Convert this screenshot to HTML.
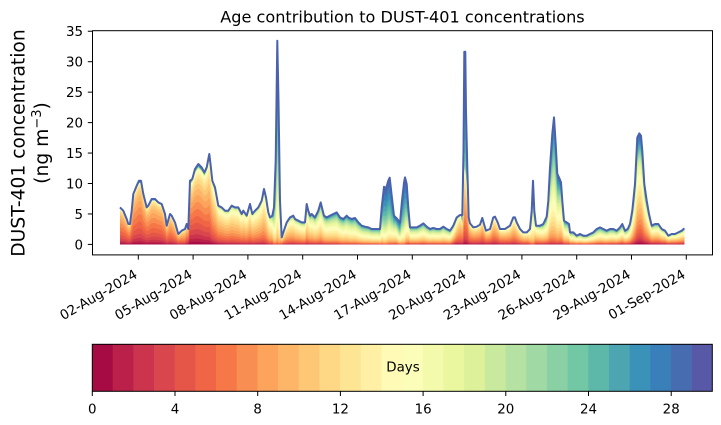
<!DOCTYPE html>
<html><head><meta charset="utf-8">
<style>
html,body{margin:0;padding:0;background:#fff;}
svg{display:block;}
text{font-family:"DejaVu Sans","Liberation Sans",sans-serif;fill:#000;}
</style></head>
<body>
<svg id="s" width="721" height="425" viewBox="0 0 721 425" xmlns="http://www.w3.org/2000/svg">
<rect width="721" height="425" fill="#fff"/>
<g id="areas"></g>
<rect x="92.5" y="30.7" width="620" height="224.2" fill="none" stroke="#000" stroke-width="1"/>
<text x="402.5" y="22.5" font-size="16.1" text-anchor="middle">Age contribution to DUST-401 concentrations</text>
<g stroke="#000" stroke-width="1">
<line x1="87.8" x2="92.5" y1="244.4" y2="244.4"/>
<line x1="87.8" x2="92.5" y1="213.95" y2="213.95"/>
<line x1="87.8" x2="92.5" y1="183.5" y2="183.5"/>
<line x1="87.8" x2="92.5" y1="153.05" y2="153.05"/>
<line x1="87.8" x2="92.5" y1="122.6" y2="122.6"/>
<line x1="87.8" x2="92.5" y1="92.15" y2="92.15"/>
<line x1="87.8" x2="92.5" y1="61.7" y2="61.7"/>
<line x1="87.8" x2="92.5" y1="31.25" y2="31.25"/>
<line y1="254.9" y2="259.6" x1="138.3" x2="138.3"/>
<line y1="254.9" y2="259.6" x1="193.1" x2="193.1"/>
<line y1="254.9" y2="259.6" x1="247.9" x2="247.9"/>
<line y1="254.9" y2="259.6" x1="302.7" x2="302.7"/>
<line y1="254.9" y2="259.6" x1="357.5" x2="357.5"/>
<line y1="254.9" y2="259.6" x1="412.3" x2="412.3"/>
<line y1="254.9" y2="259.6" x1="467.1" x2="467.1"/>
<line y1="254.9" y2="259.6" x1="521.9" x2="521.9"/>
<line y1="254.9" y2="259.6" x1="576.7" x2="576.7"/>
<line y1="254.9" y2="259.6" x1="631.5" x2="631.5"/>
<line y1="254.9" y2="259.6" x1="686.3" x2="686.3"/>
</g>
<g font-size="13.4" text-anchor="end">
<text x="83" y="249.3">0</text>
<text x="83" y="218.85">5</text>
<text x="83" y="188.4">10</text>
<text x="83" y="157.95">15</text>
<text x="83" y="127.5">20</text>
<text x="83" y="97.05">25</text>
<text x="83" y="66.6">30</text>
<text x="83" y="36.15">35</text>
</g>
<g font-size="13.4" text-anchor="end">
<text transform="translate(138.3,277) rotate(-30)">02-Aug-2024</text>
<text transform="translate(193.1,277) rotate(-30)">05-Aug-2024</text>
<text transform="translate(247.9,277) rotate(-30)">08-Aug-2024</text>
<text transform="translate(302.7,277) rotate(-30)">11-Aug-2024</text>
<text transform="translate(357.5,277) rotate(-30)">14-Aug-2024</text>
<text transform="translate(412.3,277) rotate(-30)">17-Aug-2024</text>
<text transform="translate(467.1,277) rotate(-30)">20-Aug-2024</text>
<text transform="translate(521.9,277) rotate(-30)">23-Aug-2024</text>
<text transform="translate(576.7,277) rotate(-30)">26-Aug-2024</text>
<text transform="translate(631.5,277) rotate(-30)">29-Aug-2024</text>
<text transform="translate(686.3,277) rotate(-30)">01-Sep-2024</text>
</g>
<text transform="translate(24.5,143) rotate(-90)" font-size="18.7" text-anchor="middle">DUST-401 concentration</text>
<text transform="translate(48,143) rotate(-90)" font-size="18.7" text-anchor="middle">(ng m<tspan font-size="13" dy="-7">−3</tspan><tspan dy="7">)</tspan></text>

<g id="cbar">
<rect x="92.00" y="344.3" width="21.0" height="47" fill="#a70b44"/>
<rect x="112.68" y="344.3" width="21.0" height="47" fill="#ba2049"/>
<rect x="133.35" y="344.3" width="21.0" height="47" fill="#cc344d"/>
<rect x="154.03" y="344.3" width="21.0" height="47" fill="#da464d"/>
<rect x="174.71" y="344.3" width="21.0" height="47" fill="#e55649"/>
<rect x="195.39" y="344.3" width="21.0" height="47" fill="#ef6545"/>
<rect x="216.06" y="344.3" width="21.0" height="47" fill="#f67848"/>
<rect x="236.74" y="344.3" width="21.0" height="47" fill="#f98e52"/>
<rect x="257.42" y="344.3" width="21.0" height="47" fill="#fca35c"/>
<rect x="278.09" y="344.3" width="21.0" height="47" fill="#fdb668"/>
<rect x="298.77" y="344.3" width="21.0" height="47" fill="#fec776"/>
<rect x="319.45" y="344.3" width="21.0" height="47" fill="#fed884"/>
<rect x="340.12" y="344.3" width="21.0" height="47" fill="#fee594"/>
<rect x="360.80" y="344.3" width="21.0" height="47" fill="#fff0a5"/>
<rect x="381.48" y="344.3" width="21.0" height="47" fill="#fffab6"/>
<rect x="402.15" y="344.3" width="21.0" height="47" fill="#fbfdb9"/>
<rect x="422.83" y="344.3" width="21.0" height="47" fill="#f3faac"/>
<rect x="443.51" y="344.3" width="21.0" height="47" fill="#eaf79f"/>
<rect x="464.18" y="344.3" width="21.0" height="47" fill="#dcf19a"/>
<rect x="484.86" y="344.3" width="21.0" height="47" fill="#c9e99e"/>
<rect x="505.54" y="344.3" width="21.0" height="47" fill="#b5e1a2"/>
<rect x="526.22" y="344.3" width="21.0" height="47" fill="#a0d9a4"/>
<rect x="546.89" y="344.3" width="21.0" height="47" fill="#89d0a5"/>
<rect x="567.57" y="344.3" width="21.0" height="47" fill="#72c7a5"/>
<rect x="588.25" y="344.3" width="21.0" height="47" fill="#5db8a9"/>
<rect x="608.92" y="344.3" width="21.0" height="47" fill="#4ca5b1"/>
<rect x="629.60" y="344.3" width="21.0" height="47" fill="#3b92b9"/>
<rect x="650.28" y="344.3" width="21.0" height="47" fill="#397fb9"/>
<rect x="670.95" y="344.3" width="21.0" height="47" fill="#486cb0"/>
<rect x="691.63" y="344.3" width="20.7" height="47" fill="#5759a7"/>
</g>
<rect x="92.3" y="344.3" width="620" height="47" fill="none" stroke="#000" stroke-width="1"/>
<text x="403" y="371.5" font-size="13.4" text-anchor="middle">Days</text>
<g stroke="#000" stroke-width="1">
<line x1="92.3" x2="92.3" y1="391.3" y2="396"/>
<line x1="175" x2="175" y1="391.3" y2="396"/>
<line x1="257.7" x2="257.7" y1="391.3" y2="396"/>
<line x1="340.4" x2="340.4" y1="391.3" y2="396"/>
<line x1="423.1" x2="423.1" y1="391.3" y2="396"/>
<line x1="505.8" x2="505.8" y1="391.3" y2="396"/>
<line x1="588.5" x2="588.5" y1="391.3" y2="396"/>
<line x1="671.2" x2="671.2" y1="391.3" y2="396"/>
</g>
<g font-size="13.4" text-anchor="middle">
<text x="92.3" y="413.5">0</text>
<text x="175" y="413.5">4</text>
<text x="257.7" y="413.5">8</text>
<text x="340.4" y="413.5">12</text>
<text x="423.1" y="413.5">16</text>
<text x="505.8" y="413.5">20</text>
<text x="588.5" y="413.5">24</text>
<text x="671.2" y="413.5">28</text>
</g>
</svg>
<script>
(function(){
var NS="http://www.w3.org/2000/svg";
var C=["#a70b44","#ba2049","#cc344d","#da464d","#e55649","#ef6545","#f67848","#f98e52","#fca35c","#fdb668","#fec776","#fed884","#fee594","#fff0a5","#fffab6","#fbfdb9","#f3faac","#eaf79f","#dcf19a","#c9e99e","#b5e1a2","#a0d9a4","#89d0a5","#72c7a5","#5db8a9","#4ca5b1","#3b92b9","#397fb9","#486cb0","#5759a7"];
var T=[[120,206.7],[123.3,210],[126.7,218.3],[128.3,223.3],[130,223.3],[131.7,210],[133.3,193.3],[136.7,185],[139,180],[141,180],[143.3,193.3],[146.7,206.7],[148.3,205],[151.7,198.3],[155,198.3],[158.3,201.7],[161.7,203.3],[165,213.3],[166.7,225],[170,213.3],[171.7,215],[175,221.7],[178.3,233.3],[181.7,230],[185,228.3],[186.7,223.3],[188.3,228.3],[190,180],[192.3,178.3],[195,168.3],[198.3,163.3],[201.7,166.7],[204.3,171.7],[206.7,166.7],[209.3,153.3],[210.7,165],[212.3,180],[215,186.7],[218.3,205],[221.7,206.7],[225,210],[228.3,210],[231.7,205],[235,206.7],[238.3,206.7],[241.7,213.3],[243.3,210],[246.7,215],[250,203.3],[252.3,213.3],[255,210],[258.3,206.7],[261.7,200],[264,188.3],[266,196.7],[268.3,211.7],[270,216.7],[272.3,215],[274,206.7],[275.7,160],[277.3,40],[278.5,100],[280,200],[281.7,236.7],[283.3,231.7],[286.7,221.7],[290,216.7],[293.3,215],[295,218.3],[298.3,220],[301.7,221.7],[305,221.7],[306.7,203.3],[308.3,210],[310,215],[311.7,213.3],[315,216.7],[318.3,210],[320.7,201.7],[322.3,208.3],[324,215],[326.7,216.7],[330,215],[333.3,213.3],[336.7,211.7],[340,216.7],[343.3,218.3],[346.7,215],[348.3,216.7],[351.7,218.3],[355,217.3],[358.3,221.7],[361.7,225],[365,226],[368.3,226.7],[371.7,228.3],[380,228.3],[381.7,206.7],[384,186],[386,188],[388.3,180],[389.7,177],[391.7,195],[394,215],[397,218],[400,222],[402,200],[404,182],[405,176.7],[406.7,183.3],[408.3,206.7],[410,226.7],[416.7,226.7],[420,225],[423.3,222.7],[426.7,226],[430,228.3],[433.3,227.3],[436.7,228.3],[440,228.3],[443.3,226],[446.7,228.3],[450,230],[453.3,225],[456.7,216.7],[460,214.3],[462.3,214.3],[463.5,150],[464.3,51],[465.3,51],[466,110],[467.3,166.7],[468.7,216.7],[470,222.7],[473.3,226.7],[476.7,226],[480,224],[482.3,217.3],[484,223.3],[486,230],[490,228.3],[493.3,216.7],[495,216],[497.7,221.7],[500,228.3],[505,228.3],[510,225],[513.3,216.7],[515,216.7],[516.7,221.7],[520,228.3],[523.3,231.7],[526.7,231.7],[530,228.3],[531.7,210],[533,180],[534.3,210],[536,225],[540,225],[543.3,223.3],[546.7,216],[548.3,200],[550,166.7],[552.3,133.3],[554,116.7],[555.7,143.3],[557.3,173.3],[559,176.7],[561,181.7],[562.3,200],[564,220],[566.7,221.7],[569,223.3],[570,231.7],[573.3,231.7],[576.7,235],[580,233.3],[583.3,235],[586.7,235],[590,233.3],[593.3,231.7],[596.7,228.3],[600,226.7],[603.3,228.3],[606.7,230],[610,228.3],[613.3,228.3],[616.7,230],[620,226.7],[622.3,223.3],[625,230],[627.7,228.3],[630,223.3],[632.3,210],[635,183.3],[637.3,136.7],[639.3,132.7],[641,135],[642.3,150],[644.3,183.3],[646.7,200],[649,213.3],[651.7,225],[655,223.3],[658.3,223.3],[661.7,228.3],[665,230],[668.3,235],[671.7,233.3],[675,233.3],[678.3,231.7],[681.7,230],[684.3,227.7]];
var M=[[120,6.5],[160,6.5],[185,8],[189,6],[205,7],[215,9],[240,10],[262,10],[272,12],[275.5,18],[277.3,19],[279,18],[282,10],[300,11],[320,13],[350,15],[378,15],[384,18],[396,15],[404,18],[409,14],[450,14],[458,9],[462,8],[464.3,8],[467,8],[490,8],[528,10],[531,13],[533,16],[536,11],[546,13],[554,16],[562,14],[600,14],[630,13],[640,11],[655,11],[685,11]];
var S=[[120,3.5],[185,3.5],[190,4.5],[270,4.5],[277,6],[282,4.5],[320,5.5],[380,6],[410,6],[455,6],[460,4],[530,4.5],[546,6],[630,6.5],[640,6.5],[685,6]];
var W=[[120,0.05],[272,0.05],[275.5,0.35],[278.5,0.35],[281,0.06],[300,0.08],[380,0.08],[384,0.5],[391,0.5],[395,0.15],[404,0.5],[407,0.4],[410,0.08],[461,0.06],[463.5,0.6],[465.3,0.62],[467.3,0.3],[469,0.06],[530,0.06],[533,0.3],[535,0.06],[546,0.1],[552,0.22],[556,0.22],[562,0.12],[566,0.09],[630,0.09],[637,0.15],[642,0.15],[650,0.08],[685,0.08]];
function ip(a,x){if(x<=a[0][0])return a[0][1];for(var i=1;i<a.length;i++){if(x<=a[i][0]){var x0=a[i-1][0],y0=a[i-1][1],x1=a[i][0],y1=a[i][1];return x1===x0?y1:y0+(y1-y0)*(x-x0)/(x1-x0);}}return a[a.length-1][1];}
var base=244.4,N=30;
var xs=T.map(function(p){return p[0];});
for(var x=120;x<=684.3;x+=1)xs.push(x);
var seen={},ux=[];xs.forEach(function(v){var k=Math.round(v*100)/100;if(!seen[k]){seen[k]=1;ux.push(k);}});
ux.sort(function(a,b){return a-b;});
var tops=[];for(var i=0;i<=N;i++)tops.push([]);
var oldw=[],on=0;for(i=0;i<N;i++){var v=Math.exp(-0.5*Math.pow((i-26.5)/2.6,2));oldw.push(v);on+=v;}
ux.forEach(function(x){
 var h=Math.max(0,base-ip(T,x));
 var m=ip(M,x),s=ip(S,x),w=ip(W,x);
 var g=[],gn=0;for(var i=0;i<N;i++){var v=Math.exp(-0.5*Math.pow((i-m)/s,2));g.push(v);gn+=v;}
 var cum=0;
 for(i=0;i<N;i++){var f=(1-w)*g[i]/gn+w*oldw[i]/on;cum+=f*h;tops[i+1].push([x,base-cum]);}
});
var grp=document.getElementById("areas");
var xa=ux[0],xb=ux[ux.length-1];
for(i=N-1;i>=0;i--){
 var d="M"+xa+","+base;
 tops[i+1].forEach(function(p){d+="L"+p[0].toFixed(2)+","+p[1].toFixed(2);});
 d+="L"+xb+","+base+"Z";
 var el=document.createElementNS(NS,"path");el.setAttribute("d",d);el.setAttribute("fill",C[i]);grp.appendChild(el);
}
var d2="";T.forEach(function(p,k){d2+=(k?"L":"M")+p[0]+","+(p[1]+0.7).toFixed(2);});
var ln=document.createElementNS(NS,"path");ln.setAttribute("d",d2);ln.setAttribute("fill","none");ln.setAttribute("stroke","#4a62ad");ln.setAttribute("stroke-width","2");ln.setAttribute("stroke-linejoin","round");grp.appendChild(ln);
})();
</script>
</body></html>
